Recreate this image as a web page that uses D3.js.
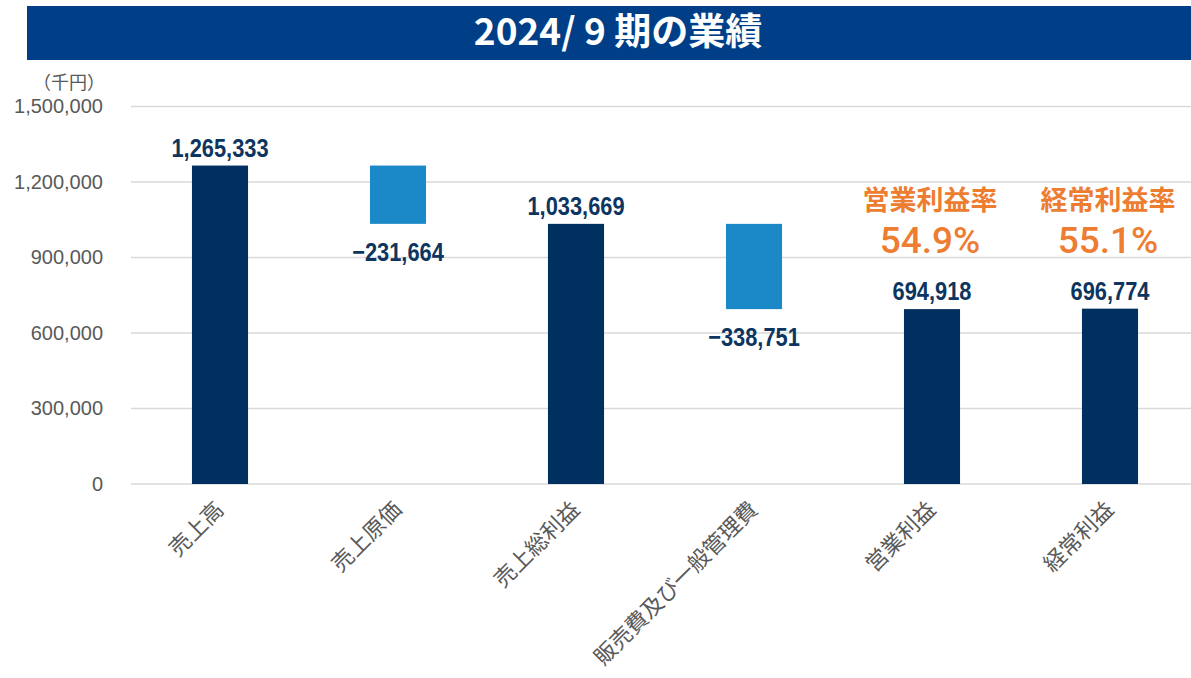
<!DOCTYPE html>
<html>
<head>
<meta charset="utf-8">
<script src="https://cdn.jsdelivr.net/npm/d3@7"></script>
<style>
  body { margin: 0; background: #fff; }
  svg { display: block; }
</style>
</head>
<body>
<svg id="chart" width="1191" height="678"></svg>
<script>
// data (units: 千円)
const categories = ["売上高", "売上原価", "売上総利益", "販売費及び一般管理費", "営業利益", "経常利益"];
const values = [1265333, -231664, 1033669, -338751, 694918, 696774];
const isTotal = [true, false, true, false, true, true];
const yTicks = [0, 300000, 600000, 900000, 1200000, 1500000];
const rateNames = ["営業利益率", "経常利益率"];
const rateValues = [54.9, 55.1];
const rateCategories = ["営業利益", "経常利益"];

const svg = d3.select("#chart");
const W = 1191;
const navy = "#003060", lightBlue = "#1b88c8", orange = "#ed7d31", grey = "#595959";
const jp = "'Noto Sans CJK JP', 'Noto Sans', sans-serif";

// title bar
svg.append("rect")
  .attr("x", 27).attr("y", 6)
  .attr("width", W - 27).attr("height", 54)
  .attr("fill", "#003f87");
svg.append("text")
  .attr("x", 618).attr("y", 45)
  .attr("text-anchor", "middle")
  .attr("fill", "#fff")
  .style("font-family", jp)
  .style("font-weight", 700)
  .style("font-size", "37px")
  .text("2024/ 9 期の業績");

// scales
const x = d3.scaleBand()
  .domain(categories)
  .range([131, 1199])
  .paddingInner(0.685)
  .paddingOuter(0.3425);
const y = d3.scaleLinear().domain([0, 1500000]).range([484, 106.5]);

// build waterfall segments
var running = 0;
const bars = categories.map(function (c, i) {
  var y0, y1;
  if (isTotal[i]) {
    y0 = 0; y1 = values[i]; running = values[i];
  } else {
    y0 = running; y1 = running + values[i]; running = y1;
  }
  return { cat: c, v: values[i], total: isTotal[i], lo: Math.min(y0, y1), hi: Math.max(y0, y1) };
});

// gridlines
svg.append("g").selectAll("line")
  .data(yTicks)
  .enter().append("line")
  .attr("x1", 131).attr("x2", W)
  .attr("y1", d => y(d)).attr("y2", d => y(d))
  .attr("stroke", "#d9d9d9")
  .attr("stroke-width", 1.5);

// y axis labels
const yAxis = svg.append("g")
  .attr("transform", "translate(113,0)")
  .call(d3.axisLeft(y).tickValues(yTicks).tickSize(0).tickPadding(10).tickFormat(d3.format(",")));
yAxis.select(".domain").remove();
yAxis.selectAll("text")
  .attr("fill", grey)
  .style("font-family", "'Liberation Sans', Arial, sans-serif")
  .style("font-size", "20px");

svg.append("text")
  .attr("x", 105).attr("y", 89)
  .attr("text-anchor", "end")
  .attr("fill", grey)
  .style("font-family", jp)
  .style("font-size", "18px")
  .text("（千円）");

// bars
svg.append("g").selectAll("rect")
  .data(bars)
  .enter().append("rect")
  .attr("x", d => x(d.cat))
  .attr("width", x.bandwidth())
  .attr("y", d => y(d.hi))
  .attr("height", d => y(d.lo) - y(d.hi))
  .attr("fill", d => d.total ? navy : lightBlue);

// value labels (squeezed horizontally to mimic the narrow bold face)
svg.append("g").selectAll("text")
  .data(bars)
  .enter().append("text")
  .attr("transform", function (d) {
    var cx = x(d.cat) + x.bandwidth() / 2;
    var cy = d.total ? y(d.hi) - 9 : y(d.lo) + 37;
    return "translate(" + cx + "," + cy + ") scale(0.84,1)";
  })
  .attr("text-anchor", "middle")
  .attr("fill", "#0d3560")
  .style("font-family", "'Liberation Sans', Arial, sans-serif")
  .style("font-weight", 700)
  .style("font-size", "26px")
  .text(d => (d.v < 0 ? "−" : "") + d3.format(",")(Math.abs(d.v)));

// x category labels, rotated
svg.append("g").selectAll("text")
  .data(categories)
  .enter().append("text")
  .attr("transform", d => "translate(" + (x(d) + x.bandwidth() / 2 + 5) + ",511) rotate(-45)")
  .attr("text-anchor", "end")
  .attr("fill", grey)
  .style("font-family", jp)
  .style("font-size", "22px")
  .text(d => d);

// margin rates
const rates = svg.append("g");
rateCategories.forEach(function (c, i) {
  const cx = x(c) + x.bandwidth() / 2 - 2;
  rates.append("text")
    .attr("x", cx).attr("y", 210)
    .attr("text-anchor", "middle")
    .attr("fill", orange)
    .style("font-family", jp)
    .style("font-weight", 700)
    .style("font-size", "27px")
    .text(rateNames[i]);
  rates.append("text")
    .attr("x", cx).attr("y", 253)
    .attr("text-anchor", "middle")
    .attr("fill", orange)
    .style("font-family", "Roboto, sans-serif")
    .style("font-weight", 500)
    .style("font-size", "37px")
    .text(rateValues[i].toFixed(1) + "%");
});
</script>
</body>
</html>
